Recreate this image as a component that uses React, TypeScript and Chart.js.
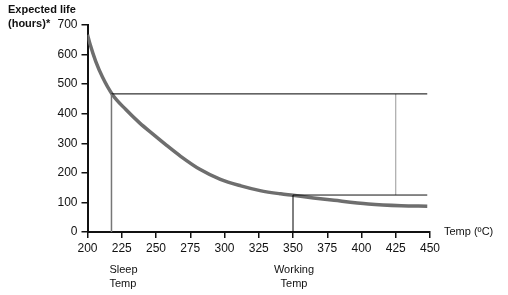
import React, { useEffect, useRef } from "react";
import Chart from "chart.js/auto";

const curveTemps = [200, 202, 206, 211, 218, 228, 238, 248, 258, 268, 282, 297, 312, 326, 341, 350, 365, 380, 405, 429, 448];
const curveLife = [667, 633, 577, 523, 466, 414, 369, 330, 292, 256, 212, 178, 156, 140, 129, 124, 115, 107, 95, 89, 87];

const sleepTemp = 217.5;
const sleepLife = 467;
const workingTemp = 350;
const workingLife = 125;
const lineEndTemp = 448;
const gapTemp = 425;

const xTicks = { min: 200, max: 450, step: 25 };
const yTicks = { min: 0, max: 700, step: 100 };

const yTitle = ["Expected life", "(hours)*"];
const xTitle = "Temp (ºC)";
const sleepLabel = ["Sleep", "Temp"];
const workingLabel = ["Working", "Temp"];

const FONT = "'Liberation Sans', Arial, Helvetica, sans-serif";

export default function App() {
  const ref = useRef<HTMLCanvasElement | null>(null);

  useEffect(() => {
    if (!ref.current) return;
    const textPlugin = {
      id: "texts",
      afterDraw(chart: any) {
        const ctx = chart.ctx;
        const xs = chart.scales.x;
        const ys = chart.scales.y;
        ctx.save();
        ctx.fillStyle = "#111";
        ctx.textBaseline = "middle";
        ctx.font = `bold 11px ${FONT}`;
        ctx.textAlign = "left";
        ctx.fillText(yTitle[0], 8, 10);
        ctx.fillText(yTitle[1], 8, 24);
        ctx.font = `11px ${FONT}`;
        ctx.fillText(xTitle, 444, ys.getPixelForValue(0));
        const sx = xs.getPixelForValue(sleepTemp);
        ctx.fillText(sleepLabel[0], sx - 2, 270);
        ctx.fillText(sleepLabel[1], sx - 2, 284);
        const wx = xs.getPixelForValue(workingTemp);
        ctx.textAlign = "center";
        ctx.fillText(workingLabel[0], wx + 1, 270);
        ctx.fillText(workingLabel[1], wx + 1, 284);
        ctx.restore();
      },
    };

    const chart = new Chart(ref.current, {
      type: "line",
      data: {
        datasets: [
          {
            data: [
              { x: sleepTemp, y: 0 },
              { x: sleepTemp, y: sleepLife },
            ],
            borderColor: "#777",
            borderWidth: 1.5,
            pointRadius: 0,
          },
          {
            data: [
              { x: sleepTemp, y: sleepLife },
              { x: lineEndTemp, y: sleepLife },
            ],
            borderColor: "#000",
            borderWidth: 1,
            pointRadius: 0,
          },
          {
            data: [
              { x: workingTemp, y: 0 },
              { x: workingTemp, y: workingLife },
            ],
            borderColor: "#000",
            borderWidth: 1,
            pointRadius: 0,
          },
          {
            data: [
              { x: workingTemp, y: workingLife },
              { x: lineEndTemp, y: workingLife },
            ],
            borderColor: "#111",
            borderWidth: 1,
            pointRadius: 0,
          },
          {
            data: [
              { x: gapTemp, y: workingLife },
              { x: gapTemp, y: sleepLife },
            ],
            borderColor: "#999",
            borderWidth: 1,
            pointRadius: 0,
          },
          {
            data: curveTemps.map((t, i) => ({ x: t, y: curveLife[i] })),
            borderColor: "#6e6e6e",
            borderWidth: 3.5,
            pointRadius: 0,
            cubicInterpolationMode: "monotone",
          },
        ],
      },
      options: {
        animation: false,
        responsive: false,
        events: [],
        layout: { padding: { top: 25, right: 78, left: 0, bottom: 0 } },
        plugins: { legend: { display: false }, tooltip: { enabled: false } },
        scales: {
          x: {
            type: "linear",
            min: xTicks.min,
            max: xTicks.max,
            afterFit: (s: any) => {
              s.height = 63;
            },
            ticks: {
              stepSize: xTicks.step,
              color: "#111",
              font: { family: FONT, size: 12 },
              padding: 3,
              maxRotation: 0,
            },
            grid: {
              drawOnChartArea: false,
              drawTicks: true,
              tickLength: 6,
              color: "#111",
              lineWidth: 1.5,
            },
            border: { color: "#111", width: 2 },
          },
          y: {
            type: "linear",
            min: yTicks.min,
            max: yTicks.max,
            afterFit: (s: any) => {
              s.width = 87.5;
            },
            ticks: {
              stepSize: yTicks.step,
              color: "#111",
              font: { family: FONT, size: 12 },
              padding: 4,
            },
            grid: {
              drawOnChartArea: false,
              drawTicks: true,
              tickLength: 6,
              color: "#111",
              lineWidth: 1.5,
            },
            border: { color: "#111", width: 2 },
          },
        },
      },
      plugins: [textPlugin],
    } as any);
    return () => chart.destroy();
  }, []);

  return (
    <div style={{ position: "fixed", left: 0, top: 0, width: 508, height: 295, background: "#fff" }}>
      <canvas ref={ref} width={508} height={295} />
    </div>
  );
}
